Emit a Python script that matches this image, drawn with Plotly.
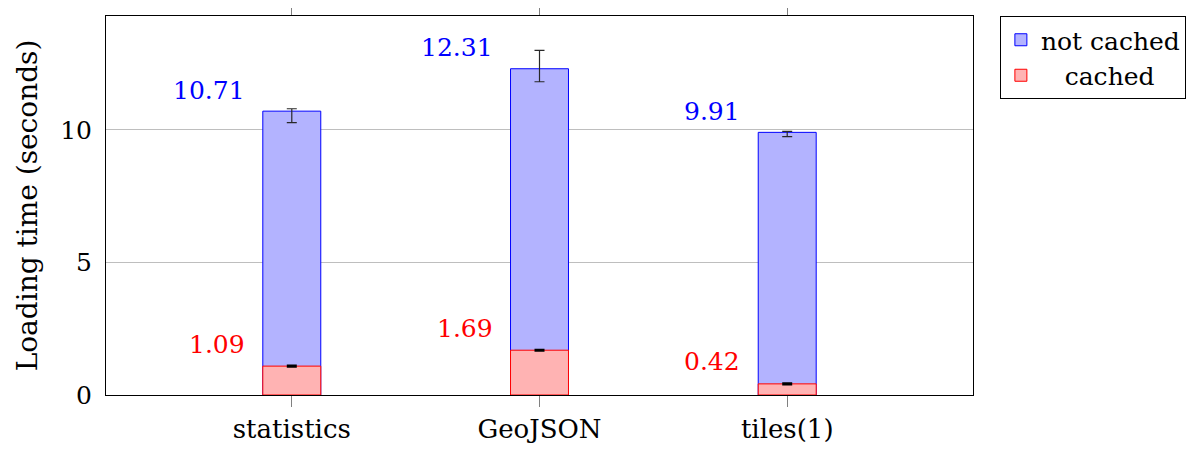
import plotly.graph_objects as go

categories = ["statistics", "GeoJSON", "tiles(1)"]
not_cached = [10.71, 12.31, 9.91]
not_cached_err_plus = [0.09, 0.69, 0.04]
not_cached_err_minus = [0.43, 0.49, 0.16]
cached = [1.09, 1.69, 0.42]
cached_err = [0.02, 0.02, 0.02]
y_ticks = [0, 5, 10]

FONT = "DejaVu Serif"

fig = go.Figure()
fig.add_trace(go.Bar(
    x=categories, y=not_cached, name="not cached", width=0.234,
    marker=dict(color="rgb(179,179,255)", line=dict(color="blue", width=1)),
    error_y=dict(type="data", symmetric=False, array=not_cached_err_plus,
                 arrayminus=not_cached_err_minus, color="rgb(40,40,40)",
                 thickness=1.2, width=5),
))
fig.add_trace(go.Bar(
    x=categories, y=cached, name="\u00a0\u00a0\u00a0cached", width=0.234,
    marker=dict(color="rgb(255,179,179)", line=dict(color="red", width=1)),
    error_y=dict(type="data", array=cached_err, color="black",
                 thickness=2, width=5),
))

annotations = []
for c, v in zip(categories, not_cached):
    annotations.append(dict(x=c, y=v, xref="x", yref="y", text=f"{v:.2f}",
                            showarrow=False, xanchor="right", yanchor="middle",
                            xshift=-45, yshift=21,
                            font=dict(family=FONT, size=25, color="blue")))
for c, v in zip(categories, cached):
    annotations.append(dict(x=c, y=v, xref="x", yref="y", text=f"{v:.2f}",
                            showarrow=False, xanchor="right", yanchor="middle",
                            xshift=-45, yshift=22,
                            font=dict(family=FONT, size=25, color="red")))

fig.update_layout(
    width=1199, height=442,
    margin=dict(l=98, r=234, t=8, b=55, autoexpand=False),
    barmode="overlay",
    plot_bgcolor="white", paper_bgcolor="white",
    font=dict(family=FONT, size=24, color="black"),
    showlegend=True,
    legend=dict(x=1.031, y=1.0, xanchor="left", yanchor="top",
                bordercolor="black", borderwidth=1,
                font=dict(family=FONT, size=25, color="black"),
                traceorder="normal", tracegroupgap=0, itemwidth=30),
    annotations=annotations,
)
fig.update_xaxes(
    range=[-0.75, 2.75], showline=True, linecolor="black", linewidth=1,
    mirror="ticks", ticks="outside", ticklen=11, tickcolor="gray",
    showgrid=False, tickfont=dict(family=FONT, size=26),
)
fig.update_yaxes(
    range=[0, 14.3], tickvals=y_ticks, showline=True, linecolor="black",
    linewidth=1, mirror=True, ticks="", showgrid=True,
    gridcolor="rgb(190,190,190)", gridwidth=1, zeroline=False,
    tickfont=dict(family=FONT, size=25), ticklabelstandoff=8,
    title=dict(text="Loading time (seconds)", font=dict(family=FONT, size=28),
               standoff=14),
)

fig.write_html("out.html")
